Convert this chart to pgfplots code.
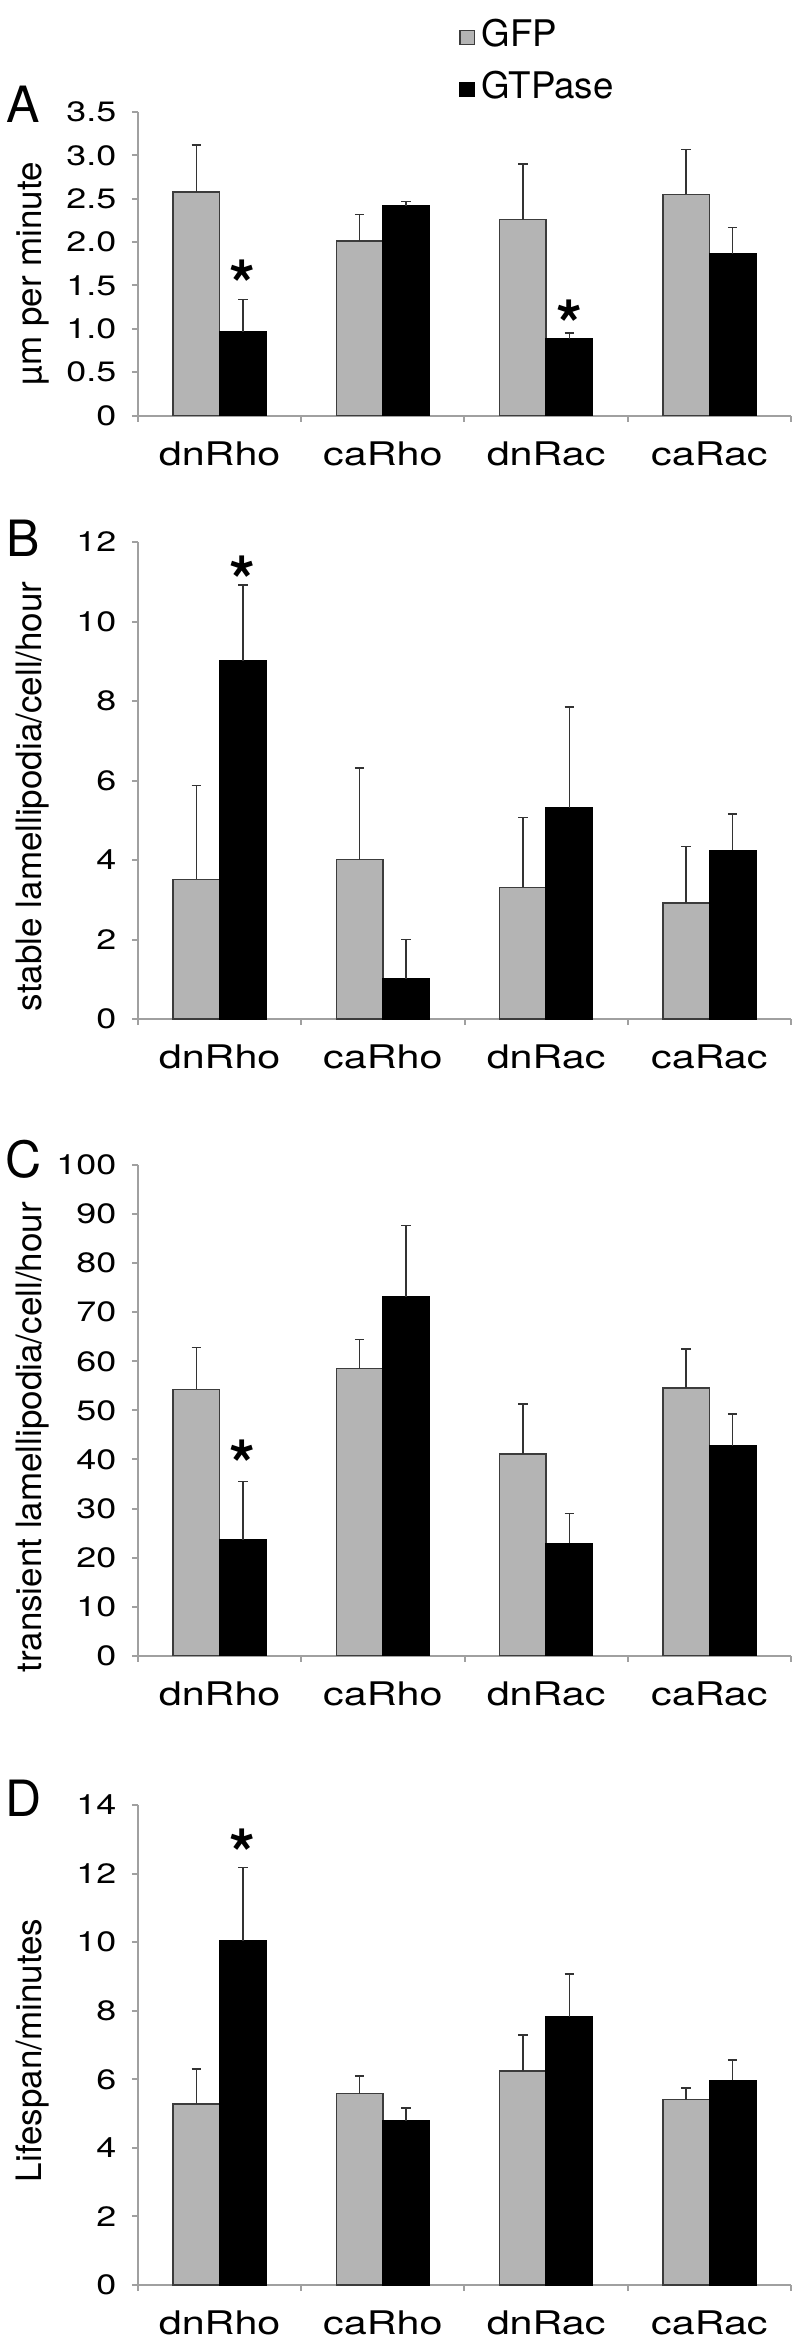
\documentclass[border=0pt]{standalone}
\usepackage{fontspec}
\setmainfont{TeX Gyre Heros}
\usepackage{pgfplots}
\pgfplotsset{compat=1.18}
\definecolor{barg}{RGB}{180,180,180}
\definecolor{bared}{RGB}{60,60,60}
\definecolor{axgray}{RGB}{160,160,160}
\tikzset{
  star/.style={font=\fontsize{20}{20}\bfseries\selectfont, yshift=-4.3pt, inner sep=0pt},
  letter/.style={font=\fontsize{15}{15}\selectfont, inner sep=0pt},
}
\pgfplotsset{
  panel/.style={
    width=195.9pt, scale only axis, xmin=-0.5, xmax=3.5, ymin=0,
    ybar=0pt, bar width=13.95pt, clip=false,
    axis x line*=bottom, axis y line*=left,
    axis line style={-, draw=axgray, line width=0.6pt},
    tick align=outside, major tick length=1.8pt,
    tick style={draw=axgray, line width=0.6pt},
    xtick={-0.5,0.5,1.5,2.5,3.5}, xticklabels={},
    extra x ticks={0,1,2,3},
    extra x tick labels={dnRho,caRho,dnRac,caRac},
    extra x tick style={major tick length=0pt, tick style={draw=none}},
    x tick label style={font=\fontsize{9.75}{11}\selectfont, anchor=base, yshift=-14.85pt, xscale=1.27},
    y tick label style={font=\fontsize{8.4}{10}\selectfont, inner xsep=3.5pt, xscale=1.28},
    ylabel style={font=\fontsize{10.5}{12}\selectfont, anchor=center},
    /pgf/number format/assume math mode=true,
  },
  gfp/.style={fill=barg, draw=bared, line width=0.45pt,
    legend image code/.code={\draw[fill=barg, draw=bared, line width=0.45pt] (0pt,-2.7pt) rectangle (4.3pt,1.5pt);},
    error bars/.cd, y dir=plus, y explicit,
    error bar style={draw=black!80, line width=0.45pt},
    error mark options={draw=black!80, line width=0.45pt, mark size=1.45pt, rotate=90}},
  gtp/.style={fill=black, draw=black, line width=0.45pt,
    legend image code/.code={\draw[fill=black, draw=black, line width=0.45pt] (0pt,-2.7pt) rectangle (4.3pt,1.5pt);},
    error bars/.cd, y dir=plus, y explicit,
    error bar style={draw=black!80, line width=0.45pt},
    error mark options={draw=black!80, line width=0.45pt, mark size=1.45pt, rotate=90}},
}
\begin{document}
\begin{tikzpicture}
\path[use as bounding box] (0pt,0pt) rectangle (240pt,-704.4pt);
% Panel A
\begin{axis}[panel, at={(41.4pt,-124.65pt)}, anchor=south west, height=91.05pt,
  ymax=3.5, ytick={0,0.5,1,1.5,2,2.5,3,3.5},
  yticklabels={0,0.5,1.0,1.5,2.0,2.5,3.0,3.5},
  ylabel={µm per minute},
  ylabel style={at={(axis description cs:-0.161,0.468)}},
  legend style={draw=none, fill=none, at={(axis description cs:0.491,1.33)}, anchor=north west,
    font=\fontsize{11}{12}\selectfont, nodes={font=\fontsize{11}{12}\selectfont},
    inner sep=0pt, row sep=1.9pt},
  legend cell align=left]
\addplot[gfp] coordinates {(0,2.58) +- (0,0.54) (1,2.01) +- (0,0.31) (2,2.26) +- (0,0.64) (3,2.55) +- (0,0.52)};
\addplot[gtp] coordinates {(0,0.965) +- (0,0.375) (1,2.42) +- (0,0.05) (2,0.885) +- (0,0.065) (3,1.86) +- (0,0.31)};
\legend{GFP,GTPase}
\node[star] at (axis cs:0.1427,1.68) {*};
\node[star] at (axis cs:2.1427,1.22) {*};
\node[letter] at (axis description cs:-0.1753,1.0247) {A};
\end{axis}
% Panel B
\begin{axis}[panel, at={(41.4pt,-305.7pt)}, anchor=south west, height=143.1pt,
  ymax=12, ytick={0,2,4,6,8,10,12},
  yticklabels={0,2,4,6,8,10,12},
  ylabel={stable lamellipodia/cell/hour},
  ylabel style={at={(axis description cs:-0.161,0.467)}}]
\addplot[gfp] coordinates {(0,3.51) +- (0,2.37) (1,4.01) +- (0,2.31) (2,3.31) +- (0,1.76) (3,2.92) +- (0,1.42)};
\addplot[gtp] coordinates {(0,9.01) +- (0,1.91) (1,1.01) +- (0,0.99) (2,5.31) +- (0,2.54) (3,4.24) +- (0,0.92)};
\node[star] at (axis cs:0.1427,11.4) {*};
\node[letter] at (axis description cs:-0.1753,1.0073) {B};
\end{axis}
% Panel C
\begin{axis}[panel, at={(41.4pt,-496.71pt)}, anchor=south west, height=147.2pt,
  ymax=100, ytick={0,10,...,100},
  yticklabels={0,10,20,30,40,50,60,70,80,90,100},
  ylabel={transient lamellipodia/cell/hour},
  ylabel style={at={(axis description cs:-0.161,0.445)}}]
\addplot[gfp] coordinates {(0,54.3) +- (0,8.5) (1,58.5) +- (0,5.9) (2,41.1) +- (0,10.2) (3,54.6) +- (0,7.9)};
\addplot[gtp] coordinates {(0,23.6) +- (0,11.9) (1,73.1) +- (0,14.6) (2,22.9) +- (0,6.1) (3,42.8) +- (0,6.5)};
\node[star] at (axis cs:0.1427,42) {*};
\node[letter] at (axis description cs:-0.1753,1.0112) {C};
\end{axis}
% Panel D
\begin{axis}[panel, at={(41.4pt,-685.5pt)}, anchor=south west, height=144pt,
  ymax=14, ytick={0,2,...,14},
  yticklabels={0,2,4,6,8,10,12,14},
  ylabel={Lifespan/minutes},
  ylabel style={at={(axis description cs:-0.161,0.489)}}]
\addplot[gfp] coordinates {(0,5.28) +- (0,1.02) (1,5.58) +- (0,0.51) (2,6.24) +- (0,1.05) (3,5.41) +- (0,0.34)};
\addplot[gtp] coordinates {(0,10.03) +- (0,2.15) (1,4.78) +- (0,0.39) (2,7.83) +- (0,1.24) (3,5.97) +- (0,0.60)};
\node[star] at (axis cs:0.1427,13) {*};
\node[letter] at (axis description cs:-0.1753,1.0135) {D};
\end{axis}
\end{tikzpicture}
\end{document}
